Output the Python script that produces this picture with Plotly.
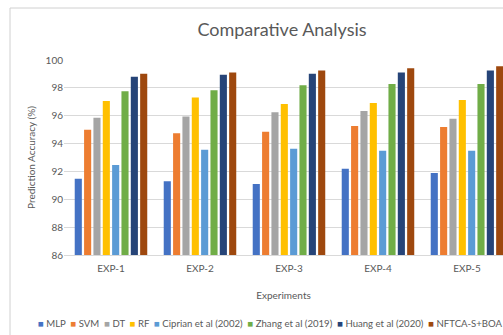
import plotly.graph_objects as go

categories = ["EXP-1", "EXP-2", "EXP-3", "EXP-4", "EXP-5"]
series_names = ["MLP", "SVM", "DT", "RF", "Ciprian et al (2002)",
                "Zhang et al (2019)", "Huang et al (2020)", "NFTCA-S+BOA"]
mlp = [91.47, 91.3, 91.1, 92.19, 91.88]
svm = [95.0, 94.75, 94.85, 95.26, 95.19]
dt = [95.86, 95.95, 96.24, 96.33, 95.79]
rf = [97.06, 97.3, 96.85, 96.92, 97.13]
ciprian = [92.47, 93.55, 93.63, 93.48, 93.48]
zhang = [97.76, 97.82, 98.19, 98.28, 98.28]
huang = [98.8, 98.94, 99.02, 99.1, 99.25]
nftca = [99.02, 99.1, 99.25, 99.4, 99.55]
colors = ["#4472C4", "#ED7D31", "#A5A5A5", "#FFC000", "#5B9BD5",
          "#70AD47", "#264478", "#9E480E"]
y_ticks = [86, 88, 90, 92, 94, 96, 98, 100]

all_series = [mlp, svm, dt, rf, ciprian, zhang, huang, nftca]

FONT = "Lato, 'Open Sans', sans-serif"
GREY = "#595959"

fig = go.Figure()
for name, vals, col in zip(series_names, all_series, colors):
    fig.add_trace(go.Bar(name=name, x=categories, y=vals, marker_color=col,
                         marker_line_width=0))

W, H = 503, 335
L, R, T, B = 64, 0, 60, 80
pw, ph = W - L - R, H - T - B

legend_html = "&nbsp;&nbsp;".join(
    f'<span style="color:{c}">■</span> {n}' for n, c in zip(series_names, colors))

fig.update_layout(
    width=W, height=H,
    margin=dict(l=L, r=R, t=T, b=B),
    paper_bgcolor="white", plot_bgcolor="white",
    font=dict(family=FONT, color=GREY, size=10),
    barmode="group", bargap=0.16, bargroupgap=0.24,
    showlegend=False,
    title=dict(text="Comparative Analysis", x=282 / W, xanchor="center",
               y=1 - 30 / H, yanchor="middle",
               font=dict(family=FONT, size=18, color=GREY)),
    xaxis=dict(range=[-0.528, -0.528 + pw / 89.0], showgrid=False,
               showline=True, linecolor="#D9D9D9", ticks="",
               ticklabelstandoff=4,
               tickfont=dict(size=10, color=GREY),
               title=dict(text="Experiments", font=dict(size=10, color=GREY),
                          standoff=18)),
    yaxis=dict(range=[86, 100], tickvals=y_ticks, showgrid=True,
               gridcolor="#D9D9D9", zeroline=False, showline=False,
               ticks="", tickfont=dict(size=10, color=GREY),
               title=dict(text="Prediction Accuracy (%)",
                          font=dict(size=10, color=GREY), standoff=8)),
    shapes=[dict(type="rect", xref="paper", yref="paper",
                 x0=(10 - L) / pw, x1=1.2, y0=-0.6, y1=(H - B - 8) / ph,
                 line=dict(color="#D0D0D0", width=1), layer="below")],
    annotations=[dict(text=legend_html, xref="paper", yref="paper",
                      x=(270 - L) / pw, y=(H - B - 323) / ph,
                      xanchor="center", yanchor="middle", showarrow=False,
                      font=dict(size=9.6, color=GREY, family=FONT))],
)

fig.write_html("out.html", config={"displayModeBar": False},
               post_script="document.body.style.margin='0';"
                           "document.body.style.overflow='hidden';")
